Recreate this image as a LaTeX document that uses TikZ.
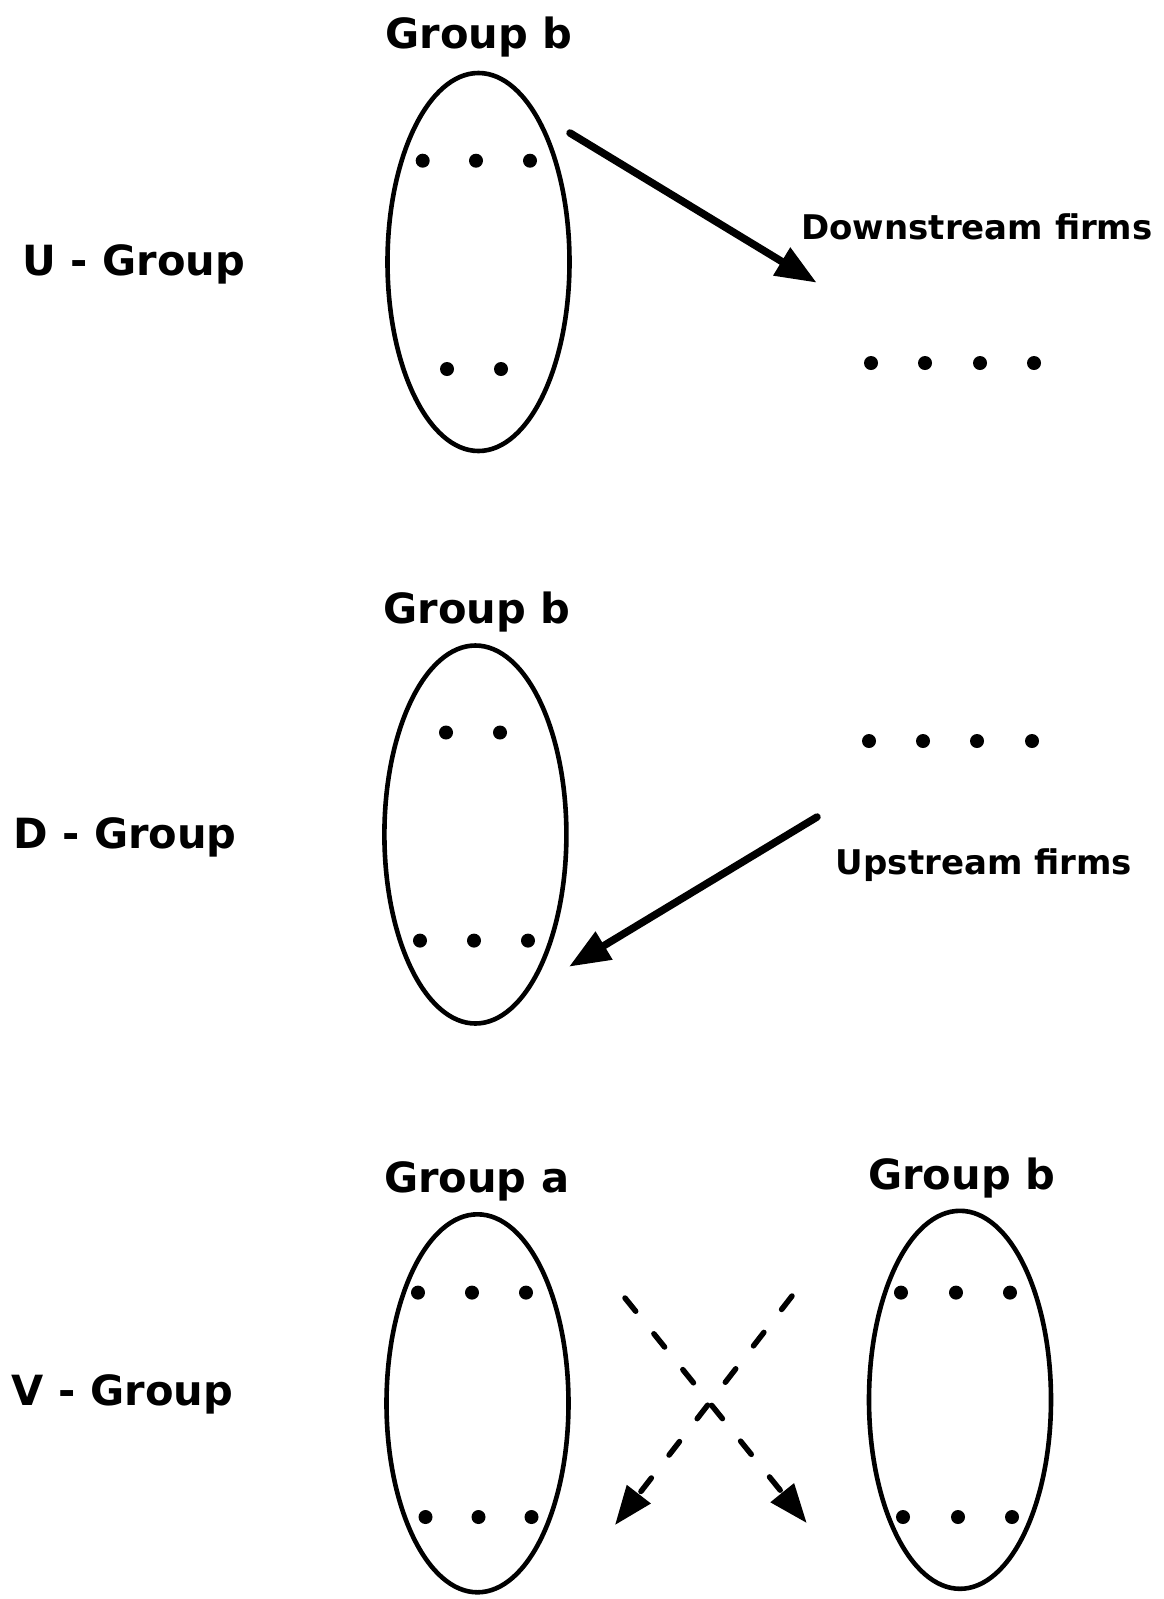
\documentclass[tikz,border=0pt]{standalone}
\usepackage{fontspec}
\setmainfont{DejaVu Sans}
\newfontfamily\labfont{DejaVu Sans}
\usetikzlibrary{shapes.geometric,arrows.meta}
\begin{document}
\begin{tikzpicture}[x=1pt,y=-1pt,
  grp/.style={ellipse,draw,line width=4.6pt,minimum width=182pt,minimum height=378pt,inner sep=0pt},
  firm/.style={circle,fill,minimum size=14pt,inner sep=0pt},
  biglab/.style={anchor=base,inner sep=0pt,font=\labfont\bfseries\fontsize{41.6}{50}\selectfont},
  smalllab/.style={anchor=base,inner sep=0pt,font=\labfont\bfseries\fontsize{34}{40}\selectfont},
  solidarrow/.style={line width=7.5pt,line cap=round,-{Triangle[length=41pt,width=31pt]}},
  dasharrow/.style={line width=5.5pt,line cap=round,dash pattern=on 17pt off 29pt,-{Triangle[length=39pt,width=29pt]}}
]
\useasboundingbox (0,0) rectangle (1164,1599);

% ellipses
\node[grp] (e1) at (478.5,262) {};
\node[grp] (e2) at (475.4,834.5) {};
\node[grp] (e3) at (477.5,1403.3) {};
\node[grp] (e4) at (960,1399.8) {};

% labels
\node[biglab] (t1) at (479,48) {Group b};
\node[biglab] (u) at (134,275) {U - Group};
\node[smalllab] (down) at (977,239) {Downstream firms};
\node[biglab] (t2) at (477,623) {Group b};
\node[biglab] (d) at (125,848) {D - Group};
\node[smalllab] (up) at (984,874) {Upstream firms};
\node[biglab] (ta) at (476.7,1192) {Group a};
\node[biglab] (tb) at (961.7,1189) {Group b};
\node[biglab] (v) at (122.5,1405) {V - Group};

% dots
\foreach \x [count=\i] in {422.7,476,530} \node[firm] (a\i) at (\x,160.7) {};
\foreach \x [count=\i] in {447,501} \node[firm] (b\i) at (\x,369) {};
\foreach \x [count=\i] in {871,925,980,1034} \node[firm] (c\i) at (\x,363) {};
\foreach \x [count=\i] in {446,500} \node[firm] (f\i) at (\x,732.5) {};
\foreach \x [count=\i] in {420,474,528} \node[firm] (g\i) at (\x,940.6) {};
\foreach \x [count=\i] in {869,923,977,1032} \node[firm] (h\i) at (\x,741) {};
\foreach \x [count=\i] in {418,472,526} \node[firm] (k\i) at (\x,1292.6) {};
\foreach \x [count=\i] in {425.5,478.5,531.5} \node[firm] (l\i) at (\x,1517) {};
\foreach \x [count=\i] in {901,956,1010} \node[firm] (m\i) at (\x,1292.6) {};
\foreach \x [count=\i] in {903,958,1012} \node[firm] (n\i) at (\x,1517) {};

% arrow end points
\coordinate (s1) at (570,133);
\coordinate (z1) at (816.7,282.7);
\coordinate (s2) at (817,817);
\coordinate (z2) at (569,966.7);
\coordinate (s3) at (625,1298);
\coordinate (z3) at (806.7,1523);
\coordinate (s4) at (792,1296);
\coordinate (z4) at (615,1525);

\draw[solidarrow] (s1) -- (z1);
\draw[solidarrow] (s2) -- (z2);
\draw[dasharrow] (s3) -- (z3);
\draw[dasharrow] (s4) -- (z4);
\end{tikzpicture}
\end{document}
